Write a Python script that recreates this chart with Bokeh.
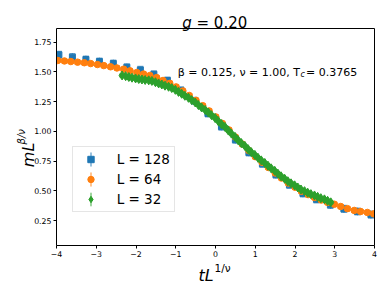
import numpy as np
from bokeh.plotting import figure
from bokeh.models import (Label, Legend, LegendItem, FixedTicker, Range1d, ColumnDataSource,
                          LinearAxis)
from bokeh.embed import file_html
from bokeh.resources import INLINE

# ---------------- data ----------------
series_labels = ["L = 128", "L = 64", "L = 32"]

L128_x = [-3.94, -3.60, -3.26, -2.92, -2.57, -2.23, -1.89, -1.55, -1.21, -0.87, -0.53, -0.19,
          0.15, 0.50, 0.84, 1.18, 1.52, 1.86, 2.20, 2.54, 2.89, 3.23, 3.57, 3.91]
L128_y = [1.644, 1.624, 1.604, 1.587, 1.570, 1.539, 1.517, 1.480, 1.428, 1.345, 1.257, 1.150,
          1.040, 0.930, 0.822, 0.727, 0.636, 0.550, 0.478, 0.428, 0.382, 0.348, 0.326, 0.300]
L128_err = 0.028

L64_x = [-3.97, -3.80, -3.64, -3.47, -3.30, -3.14, -2.97, -2.81, -2.64, -2.48, -2.31, -2.15,
         -1.98, -1.81, -1.65, -1.48, -1.32, -1.15, -0.99, -0.82, -0.66, -0.49, -0.32, -0.16,
         0.01, 0.17, 0.34, 0.50, 0.67, 0.84, 1.00, 1.17, 1.33, 1.50, 1.66, 1.83, 2.00, 2.16,
         2.33, 2.49, 2.66, 2.82, 2.99, 3.15, 3.32, 3.49, 3.65, 3.82, 3.98]
L64_y = [1.596, 1.592, 1.587, 1.582, 1.577, 1.570, 1.562, 1.553, 1.543, 1.533, 1.523, 1.509,
         1.495, 1.482, 1.470, 1.452, 1.428, 1.404, 1.374, 1.340, 1.302, 1.261, 1.216, 1.172,
         1.121, 1.067, 1.012, 0.952, 0.894, 0.838, 0.787, 0.740, 0.696, 0.650, 0.607, 0.565,
         0.530, 0.496, 0.468, 0.444, 0.422, 0.402, 0.387, 0.368, 0.350, 0.335, 0.326, 0.318, 0.306]
L64_err = 0.015

L32_x = [-2.35, -2.26, -2.18, -2.10, -2.01, -1.93, -1.85, -1.77, -1.68, -1.60, -1.51, -1.43,
         -1.35, -1.27, -1.18, -1.10, -1.01, -0.93, -0.85, -0.77, -0.68, -0.60, -0.51, -0.43,
         -0.35, -0.26, -0.18, -0.10, -0.01, 0.07, 0.15, 0.24, 0.32, 0.40, 0.49, 0.57, 0.65,
         0.74, 0.82, 0.90, 0.99, 1.07, 1.15, 1.24, 1.32, 1.40, 1.49, 1.57, 1.65, 1.74, 1.82,
         1.90, 1.99, 2.07, 2.15, 2.24, 2.32, 2.40, 2.49, 2.57, 2.65, 2.74, 2.82, 2.90]
L32_y = [1.470, 1.464, 1.457, 1.451, 1.445, 1.440, 1.436, 1.432, 1.429, 1.424, 1.413, 1.403,
         1.394, 1.384, 1.375, 1.364, 1.349, 1.332, 1.316, 1.299, 1.282, 1.263, 1.243, 1.221,
         1.201, 1.180, 1.158, 1.136, 1.112, 1.086, 1.061, 1.037, 1.008, 0.981, 0.954, 0.925,
         0.901, 0.877, 0.850, 0.825, 0.802, 0.777, 0.756, 0.734, 0.711, 0.689, 0.668, 0.644,
         0.622, 0.601, 0.580, 0.563, 0.546, 0.528, 0.511, 0.497, 0.484, 0.472, 0.461, 0.449,
         0.438, 0.428, 0.416, 0.403]
L32_err = 0.010

x_ticks = [-4, -3, -2, -1, 0, 1, 2, 3, 4]
x_tick_labels = ["\u22124", "\u22123", "\u22122", "\u22121", "0", "1", "2", "3", "4"]
y_ticks = [0.25, 0.50, 0.75, 1.00, 1.25, 1.50, 1.75]
y_tick_labels = ["0.25", "0.50", "0.75", "1.00", "1.25", "1.50", "1.75"]

title_var = "g"
title_rest = "= 0.20"
param_text = "\u03b2 = 0.125, \u03bd = 1.00, T"
param_sub = "c"
param_rest = "= 0.3765"
xlabel_main, xlabel_sup = "tL", "1/\u03bd"
ylabel_main, ylabel_sup = "mL", "\u03b2/\u03bd"

# ---------------- layout ----------------
FONT = "DejaVu Sans"
X0, X1 = -4.0, 4.0
Y0, Y1 = 0.04, 1.865
W, H = 386, 290
BL, BR, BT, BB = 56, 12, 28, 45
FL, FR = BL, W - BR
FT, FB = BT, H - BB


def dx(px):
    return X0 + (px - FL) * (X1 - X0) / (FR - FL)


def dy(py):
    return Y1 - (py - FT) * (Y1 - Y0) / (FB - FT)


p = figure(width=W, height=H, output_backend="svg", toolbar_location=None,
           x_range=Range1d(X0, X1), y_range=Range1d(Y0, Y1), title_location=None,
           min_border_left=BL, min_border_right=BR, min_border_top=BT, min_border_bottom=BB,
           background_fill_color="white", border_fill_color="white")
p.xgrid.visible = False
p.ygrid.visible = False
p.outline_line_color = None

for ax in (p.xaxis[0], p.yaxis[0]):
    ax.axis_line_color = "black"
    ax.axis_line_width = 1
    ax.major_tick_line_color = "black"
    ax.major_tick_out = 3
    ax.major_tick_in = 0
    ax.minor_tick_line_color = None
    ax.major_label_text_font = FONT
    ax.major_label_text_font_size = "7.8px"
    ax.major_label_text_color = "black"
p.xaxis.major_label_standoff = 2
p.yaxis.major_label_standoff = 2

p.xaxis.ticker = FixedTicker(ticks=x_ticks)
p.xaxis.major_label_overrides = {t: s for t, s in zip(x_ticks, x_tick_labels)}
p.yaxis.ticker = FixedTicker(ticks=y_ticks)
p.yaxis.major_label_overrides = {t: s for t, s in zip(y_ticks, y_tick_labels)}

# top and right spines: plain axes without ticks
for side in ("above", "right"):
    spine = LinearAxis(ticker=FixedTicker(ticks=[]), axis_line_color="black", axis_line_width=1,
                       major_tick_line_color=None, minor_tick_line_color=None,
                       major_tick_out=0, major_tick_in=0, major_label_standoff=0,
                       major_label_text_font_size="1px")
    p.add_layout(spine, side)

colors = ["#1f77b4", "#ff7f0e", "#2ca02c"]
markers = ["square", "circle", "diamond"]
sizes = [6, 6.5, 9]
data = [(L128_x, L128_y, L128_err), (L64_x, L64_y, L64_err), (L32_x, L32_y, L32_err)]

items = []
for (xs, ys, err), c, m, s, lab in zip(data, colors, markers, sizes, series_labels):
    src = ColumnDataSource(dict(x=xs, y=ys, lo=[v - err for v in ys], hi=[v + err for v in ys],
                                h=[2 * err for v in ys]))
    # vertical error bars (thin ellipses, so that the legend shows a vertical bar)
    bars = p.ellipse(x="x", y="y", width=0.0001, height="h", source=src, fill_color=None,
                     line_color=c, line_alpha=0.6, line_width=1.5)
    p.scatter("x", "lo", source=src, marker="dash", size=6, line_color=c, line_alpha=0.6, line_width=1.5)
    p.scatter("x", "hi", source=src, marker="dash", size=6, line_color=c, line_alpha=0.6, line_width=1.5)
    r = p.scatter("x", "y", source=src, marker=m, size=s, fill_color=c, line_color=c)
    items.append(LegendItem(label=lab, renderers=[bars, r]))

legend = Legend(items=items, location=(15.7, 33.3), orientation="vertical",
                label_text_font=FONT, label_text_font_size="13.5px", label_text_color="black",
                glyph_width=27, glyph_height=16, label_height=14, label_standoff=13,
                spacing=4, padding=4, margin=0,
                border_line_color="#cccccc", border_line_width=1,
                background_fill_color="white", background_fill_alpha=0.8)
p.add_layout(legend)


def lab(text, px, py, size, style="normal", align="left", angle=0.0, place="center"):
    label = Label(x=dx(px), y=dy(py), text=text, text_font=FONT, text_font_size=size,
                  text_font_style=style, text_align=align, text_baseline="alphabetic",
                  text_color="black", angle=angle)
    if place == "center":
        p.add_layout(label)
    else:
        p.add_layout(label, place)


# parameters (inside the frame)
lab(param_text, 299.5, 71.5, "11px", align="right")
lab(param_sub, 300, 74, "8px", "italic")
lab(param_rest, 305.5, 71.5, "11px")
# texts outside the frame go into side panels (so they are not clipped); the panel
# only reserves room, the position is given in data units
lab(title_var, 181.7, 22.7, "15px", "italic", place="left")
lab(title_rest, 196, 22.7, "15px", place="above")
lab(xlabel_main, 198, 275, "16px", "italic", place="below")
lab(xlabel_sup, 214, 267, "10.5px", place="below")
lab(ylabel_main, 27.5, 166.7, "16px", "italic", angle=np.pi / 2, place="left")
lab(ylabel_sup, 20.5, 144, "10px", "italic", angle=np.pi / 2, place="right")

open("out.html", "w").write(file_html(p, INLINE))
